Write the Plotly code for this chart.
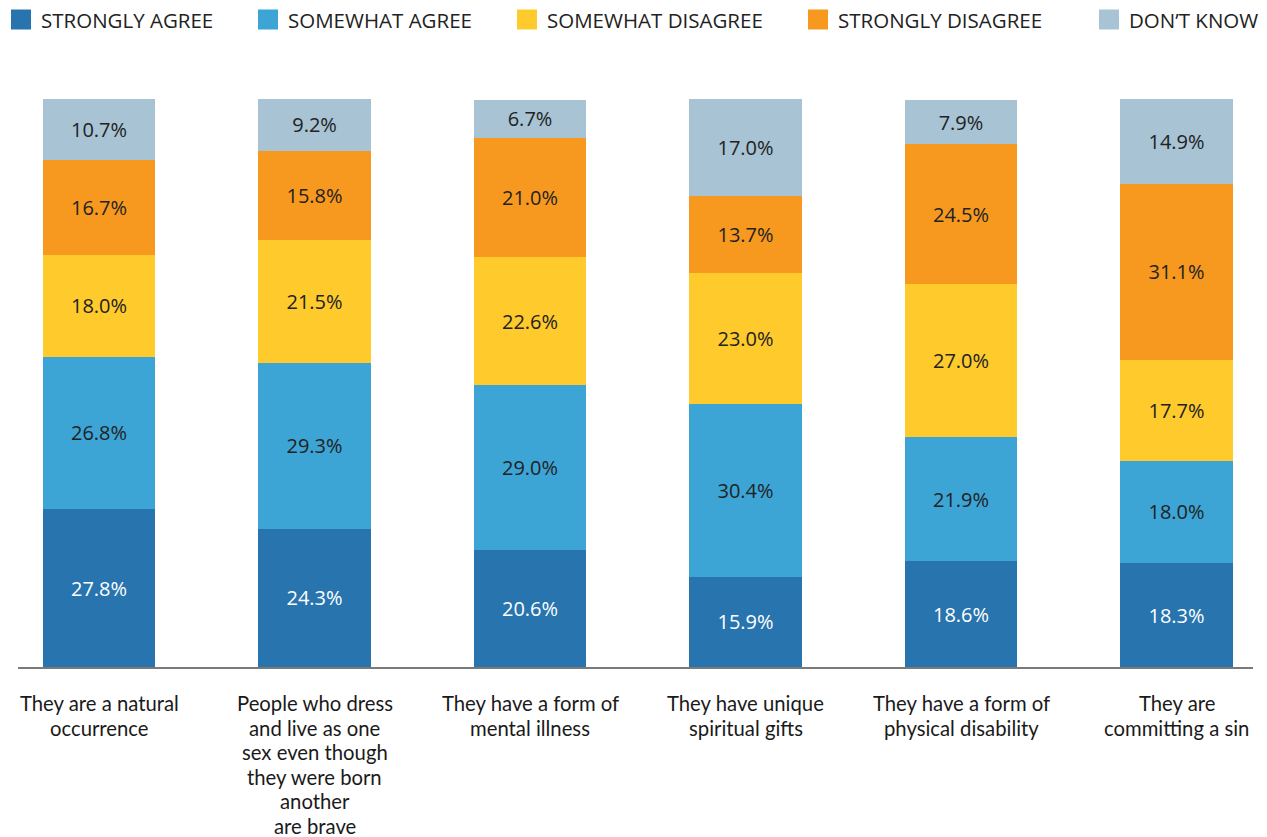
import plotly.graph_objects as go

categories = [
    "They are a natural<br>occurrence",
    "People who dress<br>and live as one<br>sex even though<br>they were born<br>another<br>are brave",
    "They have a form of<br>mental illness",
    "They have unique<br>spiritual gifts",
    "They have a form of<br>physical disability",
    "They are<br>committing a sin",
]

series_names = ["STRONGLY AGREE", "SOMEWHAT AGREE", "SOMEWHAT DISAGREE",
                "STRONGLY DISAGREE", "DON\u2019T KNOW"]
strongly_agree = [27.8, 24.3, 20.6, 15.9, 18.6, 18.3]
somewhat_agree = [26.8, 29.3, 29.0, 30.4, 21.9, 18.0]
somewhat_disagree = [18.0, 21.5, 22.6, 23.0, 27.0, 17.7]
strongly_disagree = [16.7, 15.8, 21.0, 13.7, 24.5, 31.1]
dont_know = [10.7, 9.2, 6.7, 17.0, 7.9, 14.9]

series_values = [strongly_agree, somewhat_agree, somewhat_disagree,
                 strongly_disagree, dont_know]
colors = ["#2874AE", "#3CA5D6", "#FECA2C", "#F8991F", "#A7C3D4"]
text_colors = ["#FFFFFF", "#222222", "#222222", "#222222", "#222222"]

# page geometry (px); body margin is removed below so the figure fills the window
W, H = 1267, 837
L, R, T, B = 18, 14, 99, 170
PW, PH = W - L - R, H - T - B


def px_x(px):
    return (px - L) / PW


def px_y(py):
    return (T + PH - py) / PH


x = list(range(len(categories)))

fig = go.Figure()
for name, vals, col, tcol in zip(series_names, series_values, colors, text_colors):
    fig.add_trace(go.Bar(
        x=x, y=vals, name=name,
        marker=dict(color=col, line=dict(width=0)),
        width=0.52,
        texttemplate="%{y:.1f}%",
        textposition="inside",
        insidetextanchor="middle",
        textangle=0,
        constraintext="none",
        textfont=dict(family="Open Sans, sans-serif", size=20, color=tcol),
        hoverinfo="skip",
        showlegend=False,
    ))

# legend drawn by hand so the swatches match the original size
legend_x = [11, 258, 517, 808, 1099]
sw = 20
for name, col, lx in zip(series_names, colors, legend_x):
    fig.add_shape(type="rect", xref="paper", yref="paper",
                  x0=px_x(lx), x1=px_x(lx + sw), y0=px_y(29.5), y1=px_y(9.5),
                  fillcolor=col, line=dict(width=0))
    fig.add_annotation(xref="paper", yref="paper",
                       x=px_x(lx + 28), y=px_y(19.5),
                       xanchor="left", yanchor="middle", showarrow=False,
                       text=name,
                       font=dict(family="Open Sans, sans-serif", size=20.5, color="#222222"))

# category labels, one line at a time for tighter line spacing
for i, cat in enumerate(categories):
    for j, line in enumerate(cat.split("<br>")):
        fig.add_annotation(xref="x", yref="paper",
                           x=i, y=px_y(703 + 24.5 * j),
                           xanchor="center", yanchor="middle", showarrow=False,
                           text=line,
                           font=dict(family="Lato, sans-serif", size=20.3, color="#1a1a1a"))

fig.update_layout(
    width=W, height=H,
    margin=dict(l=L, r=R, t=T, b=B, pad=0),
    barmode="stack",
    plot_bgcolor="white",
    paper_bgcolor="white",
    showlegend=False,
)
fig.update_xaxes(
    range=[-0.376, 5.355],
    tickvals=x, showticklabels=False,
    showline=True, linecolor="#7a7a7a", linewidth=1.5,
    showgrid=False, zeroline=False, ticks="",
)
fig.update_yaxes(range=[0, 100], visible=False)

fig.write_html("out.html", config={"displayModeBar": False},
               post_script="document.body.style.margin='0';")
